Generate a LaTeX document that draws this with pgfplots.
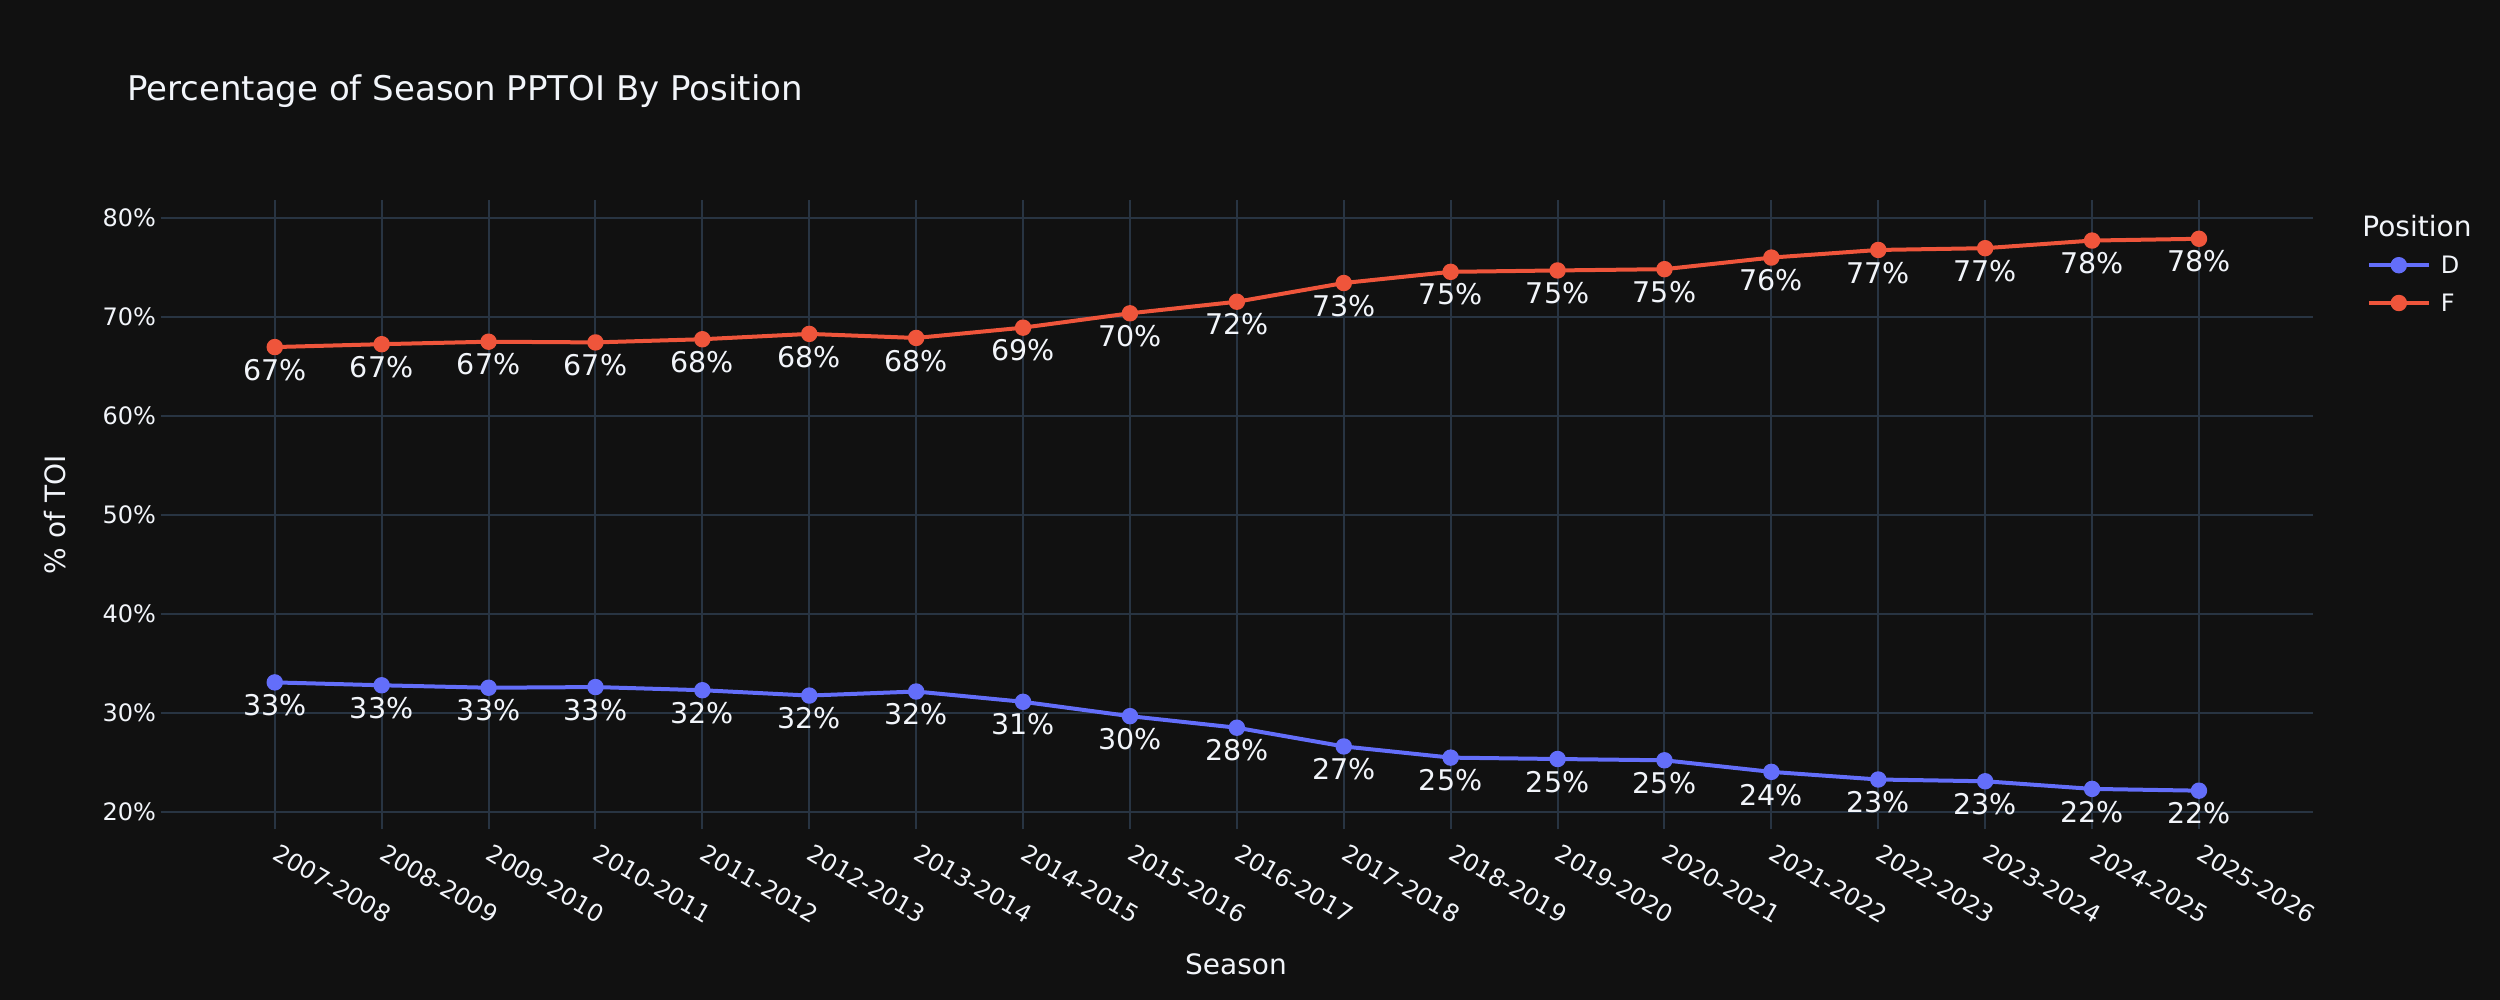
\documentclass[border=0pt]{standalone}
\usepackage{fontspec}
\setmainfont{DejaVu Sans}
\usepackage{pgfplots}
\usepackage{pgfplotstable}
\pgfplotsset{compat=1.18}
\definecolor{bg}{HTML}{111111}
\definecolor{gridc}{HTML}{283442}
\definecolor{fg}{HTML}{F2F5FA}
\definecolor{dcol}{HTML}{636EFA}
\definecolor{fcol}{HTML}{EF553B}
\newcommand\titlefont{\fontsize{9.67pt}{11pt}\selectfont}
\newcommand\axfont{\fontsize{7.97pt}{9pt}\selectfont}
\newcommand\tickfont{\fontsize{6.83pt}{8pt}\selectfont}
\newcommand\lblfont{\fontsize{8.11pt}{9pt}\selectfont}

\pgfplotstableread{
x D Dl F Fl
0 33.06 33 66.94 67
1 32.77 33 67.23 67
2 32.52 33 67.48 67
3 32.59 33 67.41 67
4 32.27 32 67.73 68
5 31.73 32 68.27 68
6 32.14 32 67.86 68
7 31.10 31 68.90 69
8 29.65 30 70.35 70
9 28.48 28 71.52 72
10 26.59 27 73.41 73
11 25.46 25 74.54 75
12 25.32 25 74.68 75
13 25.19 25 74.81 75
14 24.02 24 75.98 76
15 23.25 23 76.75 77
16 23.07 23 76.93 77
17 22.30 22 77.70 78
18 22.12 22 77.88 78
}\datatab

\begin{document}
\begin{tikzpicture}
\fill[bg] (0,0) rectangle (250mm,100mm);
\begin{axis}[
  at={(16.07mm,17.05mm)}, anchor=south west,
  scale only axis, width=215.23mm, height=62.95mm,
  xmin=-1.067, xmax=19.067, ymin=18.2, ymax=81.8,
  axis line style={draw=none},
  major tick length=0pt,
  xtick={0,...,18},
  xticklabels={2007-2008,2008-2009,2009-2010,2010-2011,2011-2012,2012-2013,2013-2014,2014-2015,2015-2016,2016-2017,2017-2018,2018-2019,2019-2020,2020-2021,2021-2022,2022-2023,2023-2024,2024-2025,2025-2026},
  ytick={20,30,40,50,60,70,80},
  yticklabels={20\%,30\%,40\%,50\%,60\%,70\%,80\%},
  xmajorgrids, ymajorgrids,
  grid style={draw=gridc, line width=0.2mm},
  tick label style={text=fg, font=\tickfont, inner sep=0pt},
  yticklabel style={anchor=east, xshift=-0.41mm},
  xticklabel style={yshift=-1.25mm, xshift=0.5mm, rotate=-30, anchor=north west},
  title={Percentage of Season PPTOI By Position},
  every axis title shift=0pt,
  title style={at={(axis description cs:-0.0159,1.1578)}, anchor=base west, inner sep=0pt, font=\titlefont, text=fg},
  xlabel={Season},
  every axis x label/.style={at={(axis description cs:0.4996,-0.2311)}, anchor=base, inner sep=0pt, font=\axfont, text=fg},
  ylabel={\% of TOI},
  every axis y label/.style={at={(axis description cs:-0.04433,0.5)}, rotate=90, anchor=base, inner sep=0pt, font=\axfont, text=fg},
  legend style={at={(axis description cs:1.025,0.9103)}, anchor=north west, draw=none, fill=none, inner sep=0pt, outer sep=0pt, font=\tickfont, text=fg, row sep=2.03mm, column sep=1mm, nodes={inner sep=0pt, text height=1.75mm, text depth=0pt}},
  legend cell align=left,
  clip=false,
]
\addplot[dcol, line width=0.4mm, line join=round, mark=*, mark size=0.62mm, mark options={fill=dcol, draw=none},
  nodes near coords={\pgfplotspointmeta\%}, point meta=explicit symbolic,
  every node near coord/.append style={anchor=north, yshift=-1.0mm, inner sep=0pt, font=\lblfont, text=fg}]
  table[x=x, y=D, meta=Dl] {\datatab};
\addlegendentry{D}
\addplot[fcol, line width=0.4mm, line join=round, mark=*, mark size=0.62mm, mark options={fill=fcol, draw=none},
  nodes near coords={\pgfplotspointmeta\%}, point meta=explicit symbolic,
  every node near coord/.append style={anchor=north, yshift=-1.0mm, inner sep=0pt, font=\lblfont, text=fg}]
  table[x=x, y=F, meta=Fl] {\datatab};
\addlegendentry{F}
\node[anchor=base west, inner sep=0pt, font=\axfont, text=fg] at (axis description cs:1.02263,0.94122) {Position};
\end{axis}
\end{tikzpicture}
\end{document}
